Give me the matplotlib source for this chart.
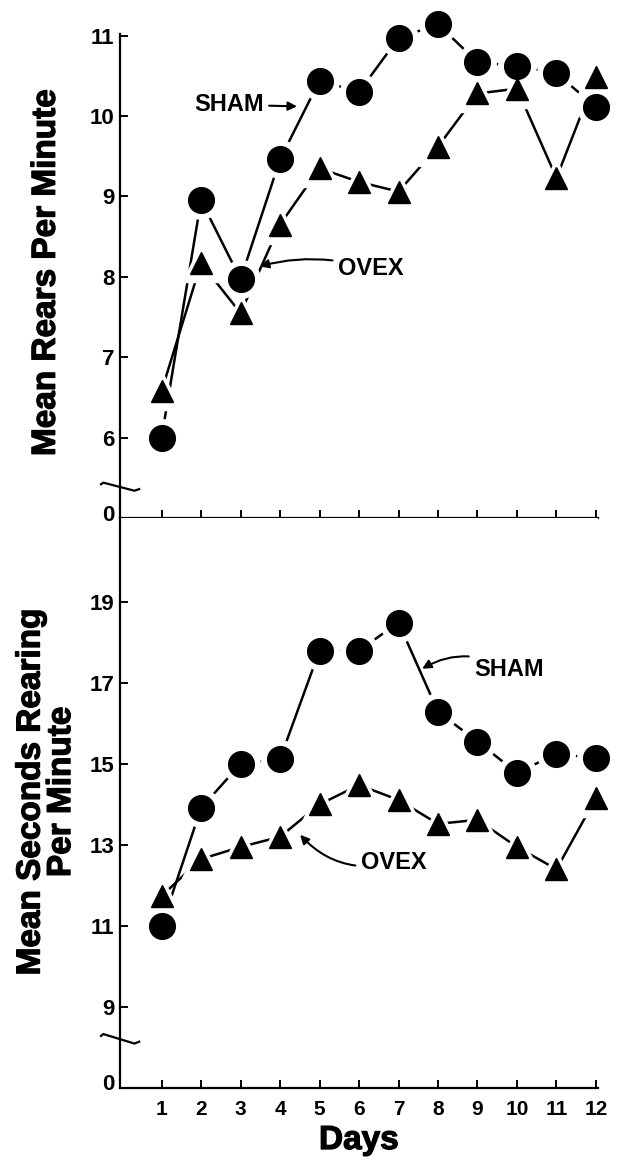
import numpy as np
import matplotlib.pyplot as plt
import matplotlib.patheffects as pe

days = np.arange(1, 13)
day_labels = [str(d) for d in days]

# rears per minute
sham_rears = [6.0, 8.95, 7.97, 9.46, 10.44, 10.30, 10.97, 11.14, 10.67, 10.62, 10.53, 10.11]
ovex_rears = [6.58, 8.17, 7.55, 8.65, 9.35, 9.18, 9.06, 9.62, 10.28, 10.34, 9.23, 10.49]

# seconds rearing per minute
sham_secs = [11.0, 13.91, 15.0, 15.12, 17.8, 17.8, 18.49, 16.29, 15.55, 14.78, 15.25, 15.14]
ovex_secs = [11.74, 12.65, 12.95, 13.2, 14.0, 14.48, 14.11, 13.52, 13.62, 12.95, 12.4, 14.16]

top_ticks = [6, 7, 8, 9, 10, 11]
bot_ticks = [9, 11, 13, 15, 17, 19]

plt.rcParams["font.family"] = ["Liberation Sans", "DejaVu Sans"]
plt.rcParams["font.weight"] = "bold"

fig = plt.figure(figsize=(6.19, 11.6), dpi=100)
ax1 = fig.add_axes([0.194, 0.5534, 0.772, 0.4173])
ax2 = fig.add_axes([0.194, 0.0621, 0.772, 0.4913])

heavy = [pe.withStroke(linewidth=0.9, foreground="black")]


def draw_series(ax, sham, ovex):
    ax.plot(days, sham, color="black", lw=1.8, zorder=1, clip_on=False)
    ax.plot(days, ovex, color="black", lw=1.8, zorder=1, clip_on=False)
    ax.plot(days, sham, "o", ms=27, color="white", zorder=2, clip_on=False)
    ax.plot(days, ovex, "^", ms=27, color="white", zorder=2, clip_on=False)
    ax.plot(days, sham, "o", ms=18.5, color="black", zorder=3, clip_on=False)
    ax.plot(days, ovex, "^", ms=16.5, color="black", zorder=3, clip_on=False)


def style_axis(ax, ymin, ymax, ticks, brk):
    ax.set_xlim(-0.05, 12.05)
    ax.set_ylim(ymin, ymax)
    for s in ("top", "right"):
        ax.spines[s].set_visible(False)
    for s in ("left", "bottom"):
        ax.spines[s].set_linewidth(1.6)
    ax.set_xticks(days)
    ax.set_yticks([ymin + 0.06 * (ymax - ymin) / 6] + ticks)
    ax.set_yticklabels(["0"] + [str(t) for t in ticks])
    ax.tick_params(axis="both", direction="in", width=1.4, labelsize=16)
    ax.tick_params(axis="y", length=6, pad=4)
    ax.tick_params(axis="x", length=6)
    ax.yaxis.get_major_ticks()[0].tick1line.set_visible(False)
    # axis break mark
    trans = ax.get_yaxis_transform()
    bx = np.array([-0.04, -0.035, 0.03, 0.04])
    by = np.array([0.04, 0.06, -0.04, -0.02]) * (ymax - ymin) / 6 + brk
    ax.plot(bx, by, color="black", lw=1.6, transform=trans, clip_on=False)


draw_series(ax1, sham_rears, ovex_rears)
style_axis(ax1, 5.0, 11.02, top_ticks, 5.38)
ax1.set_xticklabels([])

draw_series(ax2, sham_secs, ovex_secs)
style_axis(ax2, 7.0, 21.07, bot_ticks, 8.19)
ax2.set_xticklabels(day_labels, fontsize=15)
ax2.tick_params(axis="x", pad=9)

ax1.set_ylabel("Mean Rears Per Minute", fontsize=24, fontweight="bold",
               path_effects=heavy)
ax1.yaxis.set_label_coords(-0.122, 0.508)
ax2.set_ylabel("Mean Seconds Rearing\nPer Minute", fontsize=24, fontweight="bold",
               linespacing=0.98, path_effects=heavy)
ax2.yaxis.set_label_coords(-0.09, 0.52)
ax2.set_xlabel("Days", fontsize=24, fontweight="bold", labelpad=4,
               path_effects=heavy)

arrow = dict(arrowstyle="-|>", color="black", lw=1.5, mutation_scale=13)
ax1.annotate("SHAM", xy=(4.43, 10.12), xytext=(2.70, 10.14), fontsize=17,
             fontweight="bold", ha="center", va="center",
             arrowprops=dict(arrow, shrinkA=2, shrinkB=0))
ax1.annotate("OVEX", xy=(3.49, 8.13), xytext=(6.30, 8.10), fontsize=17,
             fontweight="bold", ha="center", va="center",
             arrowprops=dict(arrow, shrinkA=2, shrinkB=0,
                             connectionstyle="arc3,rad=0.15"))
ax2.annotate("SHAM", xy=(7.6, 17.35), xytext=(9.8, 17.32), fontsize=17,
             fontweight="bold", ha="center", va="center",
             arrowprops=dict(arrow, shrinkA=2, shrinkB=0,
                             connectionstyle="arc3,rad=0.3"))
ax2.annotate("OVEX", xy=(4.51, 13.25), xytext=(6.88, 12.56), fontsize=17,
             fontweight="bold", ha="center", va="center",
             arrowprops=dict(arrow, shrinkA=2, shrinkB=0,
                             connectionstyle="arc3,rad=-0.3"))

fig.savefig("out.png", dpi=100)
